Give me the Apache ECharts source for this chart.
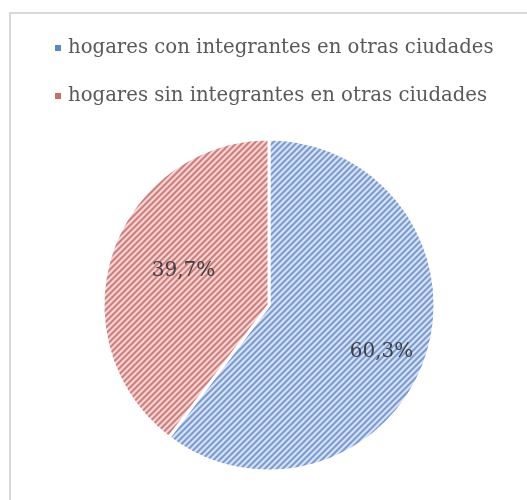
<!DOCTYPE html>
<html>
<head>
<meta charset="utf-8">
<script src="https://cdn.jsdelivr.net/npm/echarts@6/dist/echarts.min.js"></script>
<style>
html,body{margin:0;padding:0;background:#fff;}
#c{width:527px;height:500px;}
</style>
</head>
<body>
<div id="c"></div>
<script>
const categories = ['hogares con integrantes en otras ciudades', 'hogares sin integrantes en otras ciudades'];
const values = [60.3, 39.7];
const labels = ['60,3%', '39,7%'];

function stripe(light, dark) {
  const n = 6;
  const cv = document.createElement('canvas');
  cv.width = n; cv.height = n;
  const ctx = cv.getContext('2d');
  const img = ctx.createImageData(n, n);
  const hex = h => [parseInt(h.substr(1,2),16), parseInt(h.substr(3,2),16), parseInt(h.substr(5,2),16)];
  const L = hex(light), D = hex(dark);
  const M = [(L[0]+D[0])/2,(L[1]+D[1])/2,(L[2]+D[2])/2];
  for (let y = 0; y < n; y++) for (let x = 0; x < n; x++) {
    const m = (x + y) % n;
    const c = (m === 0 || m === 1) ? D : (m === 2 || m === 5 ? M : L);
    const i = (y * n + x) * 4;
    img.data[i] = c[0]; img.data[i+1] = c[1]; img.data[i+2] = c[2]; img.data[i+3] = 255;
  }
  ctx.putImageData(img, 0, 0);
  return { image: cv, repeat: 'repeat' };
}

const fills = [stripe('#d7e3f4', '#7b9bd2'), stripe('#f5d6d5', '#cf7f7d')];
const solid = ['#5b87c9', '#d06a68'];
const labelOffsets = [[31, 19], [-4, -7]];

const chart = echarts.init(document.getElementById('c'), null, { renderer: 'canvas' });
chart.setOption({
  animation: false,
  backgroundColor: '#fff',
  graphic: [{
    type: 'rect',
    shape: { x: 10, y: 13, width: 600, height: 600 },
    style: { fill: 'none', stroke: '#d9d9d9', lineWidth: 2 }
  }],
  legend: {
    orient: 'vertical',
    left: 48,
    top: 33,
    itemGap: 28,
    itemWidth: 8,
    itemHeight: 8,
    icon: 'rect',
    textStyle: { fontFamily: 'DejaVu Serif', fontSize: 19.7, color: '#595959', padding: [0, 0, 0, 1] },
    data: categories.map((c, i) => ({ name: c, itemStyle: { color: solid[i] } }))
  },
  series: [{
    type: 'pie',
    center: [269, 305],
    radius: 166,
    startAngle: 90,
    clockwise: true,
    label: {
      show: true,
      position: 'inside',
      fontFamily: 'DejaVu Serif',
      fontSize: 20,
      color: '#404040',
      formatter: p => labels[p.dataIndex]
    },
    labelLine: { show: false },
    itemStyle: { borderColor: '#fff', borderWidth: 3 },
    emphasis: { disabled: true },
    data: categories.map((c, i) => ({
      name: c,
      value: values[i],
      itemStyle: { color: fills[i] },
      label: { offset: labelOffsets[i] }
    }))
  }]
});
</script>
</body>
</html>
